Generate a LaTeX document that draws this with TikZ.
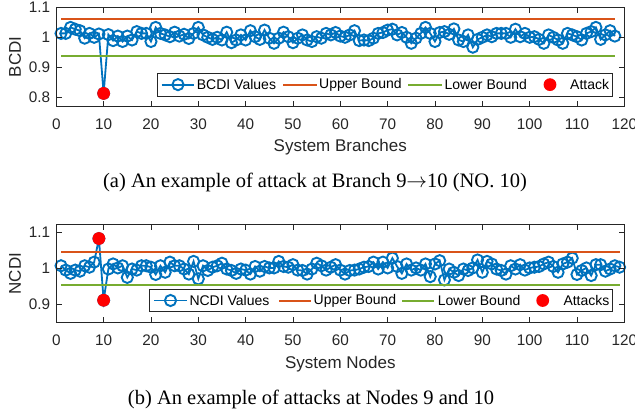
\documentclass[tikz,border=0pt]{standalone}
\usepackage{fontspec}
\setmainfont{Liberation Serif}
\setsansfont{Liberation Sans}
\usetikzlibrary{plotmarks}
\definecolor{mblue}{rgb}{0,0.447,0.741}
\definecolor{morange}{rgb}{0.85,0.325,0.098}
\definecolor{mgreen}{rgb}{0.466,0.674,0.188}
\definecolor{axgray}{rgb}{0.15,0.15,0.15}
\begin{document}
\begin{tikzpicture}[x=1pt,y=-1pt,
  axisline/.style={draw=axgray, line width=0.8pt},
  datal/.style={draw=mblue, line width=1.8pt, mark=o, mark size=5.6pt, mark options={line width=1.9pt}},
  upl/.style={draw=morange, line width=2pt},
  lowl/.style={draw=mgreen, line width=2pt},
  attackdot/.style={circle, fill=red, inner sep=0pt, minimum size=12.8pt},
  legcirc/.style={circle, draw=mblue, line width=1.9pt, inner sep=0pt, minimum size=11.2pt},
  ticklab/.style={font=\sffamily\fontsize{15.3}{16}\selectfont, text=axgray, inner sep=0pt},
  axlab/.style={font=\sffamily\fontsize{17}{18}\selectfont, text=axgray, inner sep=0pt},
  legtext/.style={font=\sffamily\fontsize{14}{16}\selectfont, text=black, inner sep=0pt, anchor=west},
  legbox/.style={draw=axgray, fill=white, line width=0.6pt},
  captext/.style={font=\fontsize{20.5}{24}\selectfont, inner sep=0pt, anchor=base}]
\path[use as bounding box, fill=white] (0,0) rectangle (635,417);

% ---------------- Plot (a) ----------------
\begin{scope}[xshift=56.3pt, yshift=-337.3pt, x=4.7333pt, y=300pt]
  \draw[datal] plot coordinates {
  (1,1.013) (2,1.013) (3,1.033) (4,1.027) (5,1.022) (6,0.997) (7,1.013) (8,1.000) (9,1.011) (10,0.813)
  (11,1.009) (12,0.989) (13,1.004) (14,0.986) (15,1.004) (16,0.991) (17,1.019) (18,1.013) (19,1.013) (20,0.986)
  (21,1.033) (22,1.013) (23,1.008) (24,1.002) (25,1.017) (26,1.004) (27,1.010) (28,0.996) (29,1.013) (30,1.033)
  (31,1.008) (32,1.000) (33,0.993) (34,1.000) (35,0.991) (36,1.017) (37,0.982) (38,0.991) (39,1.008) (40,0.991)
  (41,1.022) (42,1.002) (43,0.993) (44,1.024) (45,0.997) (46,0.980) (47,0.997) (48,1.017) (49,1.002) (50,0.982)
  (51,0.997) (52,1.008) (53,0.991) (54,0.986) (55,1.002) (56,0.997) (57,1.013) (58,1.008) (59,1.016) (60,1.004)
  (61,1.000) (62,1.008) (63,1.022) (64,0.989) (65,0.991) (66,0.989) (67,0.997) (68,1.013) (69,1.016) (70,1.024)
  (71,1.027) (72,1.008) (73,1.016) (74,1.000) (75,0.980) (76,0.997) (77,1.013) (78,1.033) (79,1.013) (80,0.986)
  (81,1.016) (82,1.019) (83,1.010) (84,1.028) (85,0.991) (86,0.986) (87,1.008) (88,0.967) (89,0.993) (90,1.000)
  (91,1.008) (92,1.002) (93,1.013) (94,1.013) (95,1.013) (96,1.000) (97,1.027) (98,1.002) (99,1.013) (100,1.000)
  (101,1.002) (102,0.993) (103,0.980) (104,1.008) (105,1.000) (106,0.991) (107,0.980) (108,1.013) (109,1.008) (110,1.002)
  (111,0.991) (112,1.013) (113,1.019) (114,1.033) (115,0.993) (116,1.008) (117,1.022) (118,1.004)};
  \draw[upl] (1,1.061) -- (118,1.061);
  \draw[lowl] (1,0.938) -- (118,0.938);
  \node[attackdot] (atkA) at (10,0.813) {};
  \draw[axisline] (0,0.77) rectangle (120,1.1);
  \foreach \t in {0,10,...,120} {
    \draw[axisline] (\t,0.77) -- ++(0pt,5.7pt);
    \draw[axisline] (\t,1.1) -- ++(0pt,-5.7pt);
    \node[ticklab, anchor=north, yshift=-12pt] (axa\t) at (\t,0.77) {\t};
  }
  \foreach \v [count=\k] in {0.8,0.9,1,1.1} {
    \draw[axisline] (0,\v) -- ++(5.7pt,0pt);
    \draw[axisline] (120,\v) -- ++(-5.7pt,0pt);
    \node[ticklab, anchor=east, xshift=-6pt] (aya\k) at (0,\v) {\v};
  }
\end{scope}
\node[axlab] (xlabA) at (340.3,147.5) {System Branches};
\node[axlab, rotate=90] (ylabA) at (15,56.8) {BCDI};
% legend (a)
\draw[legbox] (157,73.3) rectangle (612.7,96);
\draw[draw=mblue, line width=1.8pt] (161.7,84.65) -- (194,84.65);
\node[legcirc] (legAc) at (178,84.65) {};
\node[legtext] (legA1) at (196.7,84.65) {BCDI Values};
\draw[upl] (283,84.65) -- (316.7,84.65);
\node[legtext] (legA2) at (319,84.65) {Upper Bound};
\draw[lowl] (408.3,84.65) -- (441.7,84.65);
\node[legtext] (legA3) at (444.3,84.65) {Lower Bound};
\node[attackdot] (legAd) at (550,84.65) {};
\node[legtext] (legA4) at (570,84.65) {Attack};
\node[captext] (capA) at (315,188) {(a) An example of attack at Branch 9$\rightarrow$10 (NO. 10)};

% ---------------- Plot (b) ----------------
\begin{scope}[xshift=56.3pt, yshift=-631.3pt, x=4.7333pt, y=363pt]
  \draw[datal] plot coordinates {
  (1,1.007) (2,0.995) (3,0.986) (4,0.995) (5,0.992) (6,1.007) (7,1.003) (8,1.017) (9,1.082) (10,0.912)
  (11,0.998) (12,1.012) (13,1.001) (14,1.007) (15,0.975) (16,0.998) (17,0.995) (18,1.007) (19,1.007) (20,1.003)
  (21,0.983) (22,1.007) (23,0.989) (24,1.017) (25,1.007) (26,1.007) (27,0.998) (28,0.984) (29,1.019) (30,0.971)
  (31,1.007) (32,0.994) (33,1.003) (34,1.007) (35,1.014) (36,0.998) (37,0.994) (38,0.986) (39,0.998) (40,0.995)
  (41,0.984) (42,1.005) (43,0.992) (44,1.005) (45,1.001) (46,1.001) (47,1.019) (48,1.005) (49,1.003) (50,1.010)
  (51,0.995) (52,0.994) (53,0.984) (54,0.998) (55,1.014) (56,1.007) (57,0.995) (58,1.003) (59,1.010) (60,0.995)
  (61,0.984) (62,0.994) (63,0.995) (64,0.998) (65,1.003) (66,1.005) (67,1.017) (68,0.998) (69,1.017) (70,1.001)
  (71,1.028) (72,1.005) (73,0.986) (74,1.012) (75,0.995) (76,1.001) (77,0.995) (78,1.012) (79,0.977) (80,1.012)
  (81,1.021) (82,0.968) (83,0.998) (84,0.989) (85,0.980) (86,0.998) (87,0.994) (88,1.001) (89,1.023) (90,0.989)
  (91,1.019) (92,1.012) (93,0.998) (94,0.994) (95,0.984) (96,1.007) (97,0.998) (98,1.010) (99,0.995) (100,1.001)
  (101,1.003) (102,1.005) (103,1.012) (104,1.017) (105,1.005) (106,0.989) (107,1.012) (108,1.017) (109,1.028) (110,0.983)
  (111,0.994) (112,1.001) (113,0.980) (114,1.010) (115,1.010) (116,0.992) (117,0.998) (118,1.007) (119,1.003)};
  \draw[upl] (1,1.044) -- (119,1.044);
  \draw[lowl] (1,0.954) -- (119,0.954);
  \node[attackdot] (atkB1) at (9,1.082) {};
  \node[attackdot] (atkB2) at (10,0.912) {};
  \draw[axisline] (0,0.85) rectangle (120,1.12);
  \foreach \t in {0,10,...,120} {
    \draw[axisline] (\t,0.85) -- ++(0pt,5.7pt);
    \draw[axisline] (\t,1.12) -- ++(0pt,-5.7pt);
    \node[ticklab, anchor=north, yshift=-12pt] (axb\t) at (\t,0.85) {\t};
  }
  \foreach \v [count=\k] in {0.9,1,1.1} {
    \draw[axisline] (0,\v) -- ++(5.7pt,0pt);
    \draw[axisline] (120,\v) -- ++(-5.7pt,0pt);
    \node[ticklab, anchor=east, xshift=-6pt] (ayb\k) at (0,\v) {\v};
  }
\end{scope}
\node[axlab] (xlabB) at (340.3,364) {System Nodes};
\node[axlab, rotate=90] (ylabB) at (15,273.7) {NCDI};
% legend (b)
\draw[legbox] (149.3,289.3) rectangle (612.7,311.7);
\draw[draw=mblue, line width=1.8pt] (154.3,300.5) -- (186.7,300.5);
\node[legcirc] (legBc) at (170.5,300.5) {};
\node[legtext] (legB1) at (189.3,300.5) {NCDI Values};
\draw[upl] (279.3,300.5) -- (311,300.5);
\node[legtext] (legB2) at (313.5,300.5) {Upper Bound};
\draw[lowl] (402.3,300.5) -- (434.3,300.5);
\node[legtext] (legB3) at (437.7,300.5) {Lower Bound};
\node[attackdot] (legBd) at (542.7,300.5) {};
\node[legtext] (legB4) at (563.3,300.5) {Attacks};
\node[captext] (capB) at (311,404) {(b) An example of attacks at Nodes 9 and 10};
\end{tikzpicture}
\end{document}
